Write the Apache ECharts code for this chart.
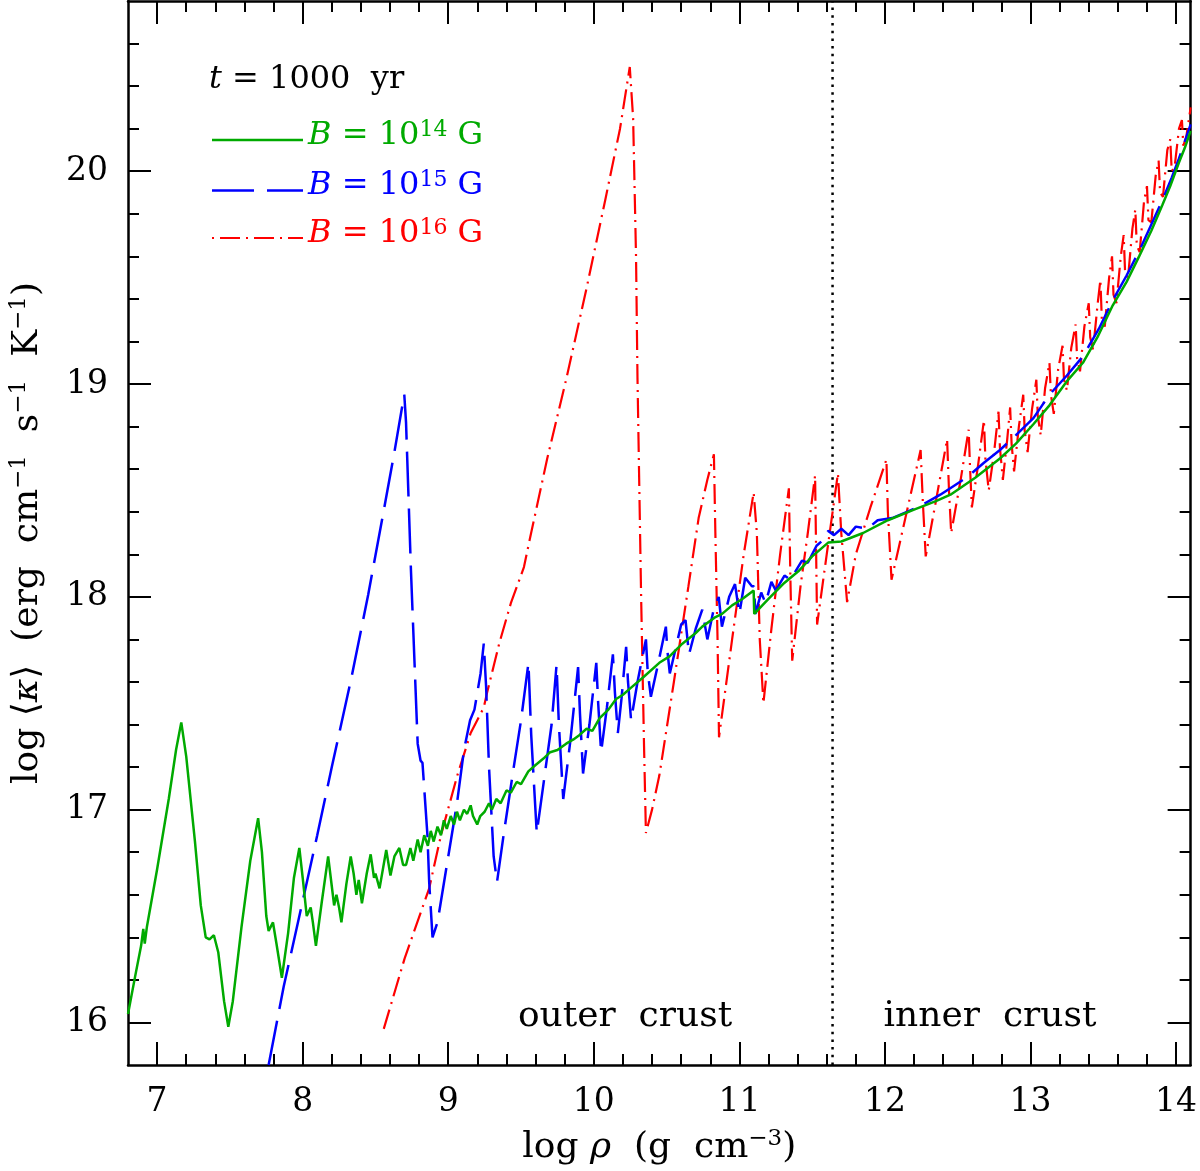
<!DOCTYPE html>
<html><head><meta charset="utf-8">
<script src="https://cdn.jsdelivr.net/npm/echarts@6/dist/echarts.min.js"></script>
<style>html,body{margin:0;padding:0;background:#fff}#c{width:1200px;height:1171px}</style>
</head><body><div id="c"></div>
<script>
// ---------- data ----------
const xMajorTicks = [7, 8, 9, 10, 11, 12, 13, 14];
const xMinorTicks = [7.2, 7.4, 7.6, 7.8, 8.2, 8.4, 8.6, 8.8, 9.2, 9.4, 9.6, 9.8, 10.2, 10.4, 10.6, 10.8,
  11.2, 11.4, 11.6, 11.8, 12.2, 12.4, 12.6, 12.8, 13.2, 13.4, 13.6, 13.8, 14.0];
const yMajorTicks = [16, 17, 18, 19, 20];
const yMinorTicks = [16.2, 16.4, 16.6, 16.8, 17.2, 17.4, 17.6, 17.8, 18.2, 18.4, 18.6, 18.8,
  19.2, 19.4, 19.6, 19.8, 20.2, 20.4, 20.6];
const dripLine = [[11.64, 15.8], [11.64, 20.8]];

const greenData = [
  [6.80, 16.04], [6.85, 16.22], [6.89, 16.36], [6.905, 16.44], [6.915, 16.37], [6.93, 16.45],
  [7.00, 16.72], [7.08, 17.05], [7.13, 17.28], [7.166, 17.41], [7.20, 17.25], [7.26, 16.85],
  [7.30, 16.55], [7.334, 16.40], [7.36, 16.39], [7.39, 16.41], [7.42, 16.33], [7.46, 16.10],
  [7.489, 15.98], [7.52, 16.10], [7.58, 16.45], [7.64, 16.76], [7.694, 16.96], [7.72, 16.80],
  [7.75, 16.50], [7.766, 16.43], [7.796, 16.47], [7.82, 16.37], [7.857, 16.21], [7.90, 16.42],
  [7.94, 16.68], [7.977, 16.82], [8.00, 16.68], [8.028, 16.50], [8.055, 16.54], [8.07, 16.47],
  [8.091, 16.36], [8.13, 16.56], [8.175, 16.78], [8.20, 16.64], [8.216, 16.55], [8.232, 16.60],
  [8.25, 16.54], [8.266, 16.47], [8.30, 16.65], [8.33, 16.78], [8.35, 16.70], [8.369, 16.60],
  [8.385, 16.67], [8.407, 16.56], [8.44, 16.70], [8.467, 16.79], [8.49, 16.68], [8.50, 16.70],
  [8.528, 16.63], [8.574, 16.81], [8.603, 16.69], [8.63, 16.78], [8.664, 16.82], [8.69, 16.74],
  [8.71, 16.74], [8.74, 16.82], [8.76, 16.76], [8.79, 16.86], [8.81, 16.80], [8.835, 16.88],
  [8.86, 16.83], [8.88, 16.90], [8.90, 16.85], [8.926, 16.92], [8.95, 16.88], [8.97, 16.95],
  [8.99, 16.91], [9.017, 16.97], [9.04, 16.93], [9.06, 16.99], [9.08, 16.95], [9.108, 17.00],
  [9.13, 16.98], [9.154, 17.02], [9.17, 16.97], [9.199, 16.93], [9.22, 16.97], [9.25, 16.99],
  [9.28, 17.03], [9.30, 17.00], [9.33, 17.05], [9.36, 17.03], [9.40, 17.09], [9.43, 17.08],
  [9.47, 17.13], [9.50, 17.12], [9.55, 17.18], [9.60, 17.21], [9.654, 17.24], [9.70, 17.27],
  [9.75, 17.28], [9.81, 17.31], [9.86, 17.33], [9.90, 17.35], [9.95, 17.38], [9.99, 17.37],
  [10.04, 17.43], [10.10, 17.47], [10.153, 17.52], [10.20, 17.54], [10.25, 17.57], [10.336, 17.62],
  [10.45, 17.69], [10.52, 17.72], [10.608, 17.78], [10.70, 17.83], [10.745, 17.86], [10.836, 17.905],
  [10.881, 17.92], [10.95, 17.96], [11.02, 17.99], [11.098, 18.03], [11.102, 17.92], [11.20, 17.99],
  [11.30, 18.06], [11.405, 18.12], [11.50, 18.19], [11.61, 18.255], [11.70, 18.26], [11.85, 18.30],
  [12.02, 18.36], [12.20, 18.41], [12.35, 18.45], [12.45, 18.48], [12.62, 18.56], [12.79, 18.65],
  [12.90, 18.72], [13.018, 18.81], [13.13, 18.90], [13.246, 19.01], [13.36, 19.10], [13.46, 19.22],
  [13.565, 19.37], [13.66, 19.48], [13.746, 19.60], [13.83, 19.72], [13.905, 19.84], [13.96, 19.93],
  [14.019, 20.04], [14.06, 20.11], [14.10, 20.19]
];

const blueData = [
  [7.766, 15.80], [7.87, 16.17], [8.00, 16.57], [8.10, 16.88], [8.20, 17.20], [8.335, 17.62],
  [8.45, 18.01], [8.55, 18.38], [8.63, 18.68], [8.68, 18.88], [8.698, 18.95], [8.71, 18.82],
  [8.744, 18.12], [8.79, 17.31], [8.81, 17.23], [8.823, 17.22], [8.857, 16.88], [8.869, 16.66],
  [8.892, 16.40], [8.926, 16.47], [9.00, 16.78], [9.06, 17.03], [9.108, 17.28], [9.15, 17.42],
  [9.18, 17.47], [9.222, 17.64], [9.244, 17.78], [9.26, 17.58], [9.28, 17.20], [9.312, 16.78],
  [9.335, 16.66], [9.38, 16.88], [9.45, 17.20], [9.50, 17.42], [9.551, 17.69], [9.57, 17.35],
  [9.608, 16.89], [9.66, 17.15], [9.71, 17.40], [9.744, 17.68], [9.76, 17.40], [9.79, 17.05],
  [9.84, 17.33], [9.892, 17.67], [9.905, 17.45], [9.926, 17.17], [9.97, 17.40], [10.017, 17.69],
  [10.03, 17.50], [10.05, 17.27], [10.09, 17.48], [10.131, 17.73], [10.145, 17.55], [10.165, 17.36],
  [10.19, 17.52], [10.222, 17.765], [10.235, 17.60], [10.256, 17.42], [10.30, 17.60], [10.358, 17.80],
  [10.37, 17.65], [10.392, 17.53], [10.44, 17.68], [10.495, 17.86], [10.505, 17.75], [10.522, 17.64],
  [10.57, 17.78], [10.60, 17.87], [10.63, 17.89], [10.654, 17.73], [10.70, 17.85], [10.745, 17.94],
  [10.78, 17.80], [10.82, 17.93], [10.858, 18.00], [10.88, 17.86], [10.93, 18.00], [10.97, 18.06],
  [11.00, 17.92], [11.04, 18.09], [11.086, 18.05], [11.10, 18.05], [11.11, 17.92], [11.15, 18.02],
  [11.18, 17.97], [11.22, 18.07], [11.25, 18.03], [11.31, 18.10], [11.35, 18.08], [11.43, 18.17],
  [11.47, 18.16], [11.53, 18.24], [11.58, 18.27], [11.61, 18.31], [11.65, 18.29], [11.70, 18.32],
  [11.75, 18.29], [11.80, 18.33], [11.88, 18.32], [11.95, 18.36], [12.05, 18.37], [12.155, 18.40],
  [12.25, 18.43], [12.38, 18.48], [12.47, 18.52], [12.56, 18.56], [12.68, 18.63], [12.79, 18.69],
  [12.90, 18.76], [13.02, 18.84], [13.13, 18.95], [13.25, 19.04], [13.36, 19.13], [13.47, 19.26],
  [13.57, 19.40], [13.66, 19.51], [13.75, 19.63], [13.83, 19.75], [13.91, 19.87], [13.97, 19.97],
  [14.02, 20.06], [14.06, 20.14], [14.10, 20.22]
];

const redData = [
  [8.557, 15.97], [8.70, 16.30], [8.869, 16.63], [8.95, 16.88], [9.062, 17.16], [9.154, 17.36],
  [9.244, 17.48], [9.267, 17.55], [9.35, 17.78], [9.43, 17.97], [9.494, 18.09], [9.52, 18.14],
  [9.563, 18.28], [9.68, 18.65], [9.813, 19.03], [9.95, 19.45], [10.08, 19.87], [10.18, 20.20],
  [10.247, 20.49], [10.27, 20.25], [10.29, 19.60], [10.30, 19.03], [10.325, 18.00], [10.345, 17.30],
  [10.358, 16.89], [10.40, 17.00], [10.45, 17.16], [10.55, 17.60], [10.65, 18.05], [10.72, 18.37],
  [10.78, 18.55], [10.825, 18.67], [10.835, 18.30], [10.85, 17.80], [10.86, 17.34], [10.95, 17.80],
  [11.03, 18.20], [11.098, 18.49], [11.12, 18.30], [11.14, 17.80], [11.165, 17.50], [11.22, 17.85],
  [11.28, 18.20], [11.34, 18.51], [11.35, 18.10], [11.363, 17.70], [11.42, 18.05], [11.47, 18.30],
  [11.52, 18.57], [11.534, 17.87], [11.60, 18.20], [11.677, 18.58], [11.70, 18.30], [11.74, 17.975],
  [11.80, 18.20], [11.90, 18.42], [12.01, 18.645], [12.02, 18.40], [12.045, 18.08], [12.15, 18.40],
  [12.245, 18.69], [12.26, 18.45], [12.28, 18.19], [12.35, 18.45], [12.427, 18.74], [12.44, 18.50],
  [12.455, 18.30], [12.52, 18.55], [12.575, 18.785], [12.585, 18.60], [12.597, 18.42], [12.64, 18.62],
  [12.68, 18.83], [12.69, 18.65], [12.713, 18.50], [12.75, 18.68], [12.78, 18.87], [12.79, 18.70],
  [12.81, 18.55], [12.84, 18.74], [12.86, 18.89], [12.87, 18.72], [12.887, 18.59], [12.92, 18.80],
  [12.95, 18.95], [12.96, 18.78], [12.98, 18.68], [13.01, 18.88], [13.04, 19.02], [13.05, 18.85],
  [13.07, 18.76], [13.10, 18.98], [13.13, 19.10], [13.14, 18.95], [13.16, 18.86], [13.19, 19.07],
  [13.22, 19.18], [13.23, 19.02], [13.25, 18.97], [13.28, 19.17], [13.31, 19.28], [13.32, 19.12],
  [13.34, 19.06], [13.37, 19.27], [13.40, 19.38], [13.41, 19.22], [13.43, 19.16], [13.46, 19.37],
  [13.48, 19.49], [13.49, 19.30], [13.51, 19.27], [13.54, 19.50], [13.56, 19.60], [13.57, 19.42],
  [13.59, 19.38], [13.62, 19.60], [13.64, 19.70], [13.65, 19.52], [13.67, 19.50], [13.70, 19.73],
  [13.72, 19.82], [13.73, 19.65], [13.75, 19.62], [13.78, 19.86], [13.80, 19.93], [13.81, 19.77],
  [13.83, 19.76], [13.86, 19.98], [13.88, 20.05], [13.89, 19.90], [13.91, 19.88], [13.94, 20.10],
  [13.96, 20.15], [13.97, 20.00], [13.99, 20.02], [14.02, 20.20], [14.04, 20.24], [14.05, 20.12],
  [14.07, 20.16], [14.10, 20.30]
];

// ---------- styling ----------
const FONT = "'DejaVu Serif', 'Liberation Serif', serif";
const GREEN = '#00aa00', BLUE = '#0000ff', RED = '#ff0000';
const XMIN = 6.8, XMAX = 14.1, YMIN = 15.8, YMAX = 20.8;

function tickAxis(kind, position, ticks, len, withLine, label) {
  const a = {
    type: 'value', gridIndex: 0, position: position,
    min: kind === 'x' ? XMIN : YMIN, max: kind === 'x' ? XMAX : YMAX,
    axisLine: { show: withLine, onZero: false, lineStyle: { color: '#000', width: 2.5 } },
    axisTick: { show: true, inside: true, length: len, customValues: ticks, lineStyle: { color: '#000', width: 2 } },
    splitLine: { show: false },
    axisLabel: { show: false }
  };
  if (label) Object.assign(a, label);
  return a;
}

const subRich = {
  i: { fontStyle: 'italic', fontFamily: FONT, fontSize: 36, color: '#000', lineHeight: 40 },
  n: { fontFamily: FONT, fontSize: 36, color: '#000', lineHeight: 40 },
  sup: { fontFamily: FONT, fontSize: 23, color: '#000', lineHeight: 26, verticalAlign: 'top' }
};

const option = {
  animation: false,
  backgroundColor: '#fff',
  grid: { left: 122, right: 8, top: 1, bottom: 101, containLabel: false },
  xAxis: [
    tickAxis('x', 'bottom', xMajorTicks, 23, true, {
      axisLabel: { show: true, customValues: xMajorTicks, margin: 21, fontSize: 33, fontFamily: FONT, color: '#000' },
      name: '{n|log }{i|ρ}{n|  (g  cm}{sup|−3}{n|)}',
      nameLocation: 'middle', nameGap: 63,
      nameTextStyle: { rich: subRich }
    }),
    tickAxis('x', 'bottom', xMinorTicks, 11, false),
    tickAxis('x', 'top', xMajorTicks, 23, true),
    tickAxis('x', 'top', xMinorTicks, 11, false)
  ],
  yAxis: [
    tickAxis('y', 'left', yMajorTicks, 23, true, {
      axisLabel: { show: true, customValues: yMajorTicks, margin: 20, fontSize: 33, fontFamily: FONT, color: '#000' },
      name: '{n|log ⟨}{i|κ}{n|⟩  (erg  cm}{sup|−1}{n|  s}{sup|−1}{n|  K}{sup|−1}{n|)}',
      nameLocation: 'middle', nameGap: 80, nameRotate: 90,
      nameTextStyle: { rich: subRich }
    }),
    tickAxis('y', 'left', yMinorTicks, 11, false),
    tickAxis('y', 'right', yMajorTicks, 23, true),
    tickAxis('y', 'right', yMinorTicks, 11, false)
  ],
  series: [
    { type: 'line', name: 'drip', data: dripLine, symbol: 'none', silent: true,
      lineStyle: { color: '#000', width: 2.5, type: [2.5, 5.2] } },
    { type: 'line', name: 'B16', data: redData, symbol: 'none', silent: true,
      lineStyle: { color: RED, width: 2.2, type: [20, 6, 2, 6] } },
    { type: 'line', name: 'B15', data: blueData, symbol: 'none', silent: true,
      lineStyle: { color: BLUE, width: 2.5, type: [45, 12] } },
    { type: 'line', name: 'B14', data: greenData, symbol: 'none', silent: true,
      lineStyle: { color: GREEN, width: 2.5 } }
  ],
  graphic: []
};

function legText(x, y, color, rich, text, size) {
  return { type: 'text', x: x, y: y, silent: true,
    style: { text: text, rich: rich, fill: color, font: size + 'px ' + FONT, align: 'left', verticalAlign: 'middle' } };
}
function bRich(color) {
  return {
    i: { fontStyle: 'italic', fontFamily: FONT, fontSize: 32, fill: color, lineHeight: 34 },
    n: { fontFamily: FONT, fontSize: 32, fill: color, lineHeight: 34 },
    sup: { fontFamily: FONT, fontSize: 22, fill: color, lineHeight: 24, verticalAlign: 'top' }
  };
}
const g = option.graphic;
g.push(legText(209, 80, '#000', bRich('#000'), '{i|t}{n| = 1000  yr}', 32));
g.push({ type: 'line', silent: true, shape: { x1: 212, y1: 140, x2: 303, y2: 140 }, style: { stroke: GREEN, lineWidth: 2.5 } });
g.push({ type: 'line', silent: true, shape: { x1: 212, y1: 190.5, x2: 303, y2: 190.5 }, style: { stroke: BLUE, lineWidth: 2.5, lineDash: [42, 13] } });
g.push({ type: 'line', silent: true, shape: { x1: 212, y1: 238, x2: 303, y2: 238 }, style: { stroke: RED, lineWidth: 2.2, lineDash: [2, 6, 20, 6] } });
g.push(legText(308, 136, GREEN, bRich(GREEN), '{i|B}{n| = 10}{sup|14}{n| G}', 32));
g.push(legText(308, 186, BLUE, bRich(BLUE), '{i|B}{n| = 10}{sup|15}{n| G}', 32));
g.push(legText(308, 234, RED, bRich(RED), '{i|B}{n| = 10}{sup|16}{n| G}', 32));
g.push({ type: 'text', x: 625, y: 1017, silent: true,
  style: { text: 'outer  crust', fill: '#000', font: '36px ' + FONT, align: 'center', verticalAlign: 'middle' } });
g.push({ type: 'text', x: 990, y: 1017, silent: true,
  style: { text: 'inner  crust', fill: '#000', font: '36px ' + FONT, align: 'center', verticalAlign: 'middle' } });

const chart = echarts.init(document.getElementById('c'), null, { renderer: 'canvas' });
chart.setOption(option);
</script>
</body></html>
